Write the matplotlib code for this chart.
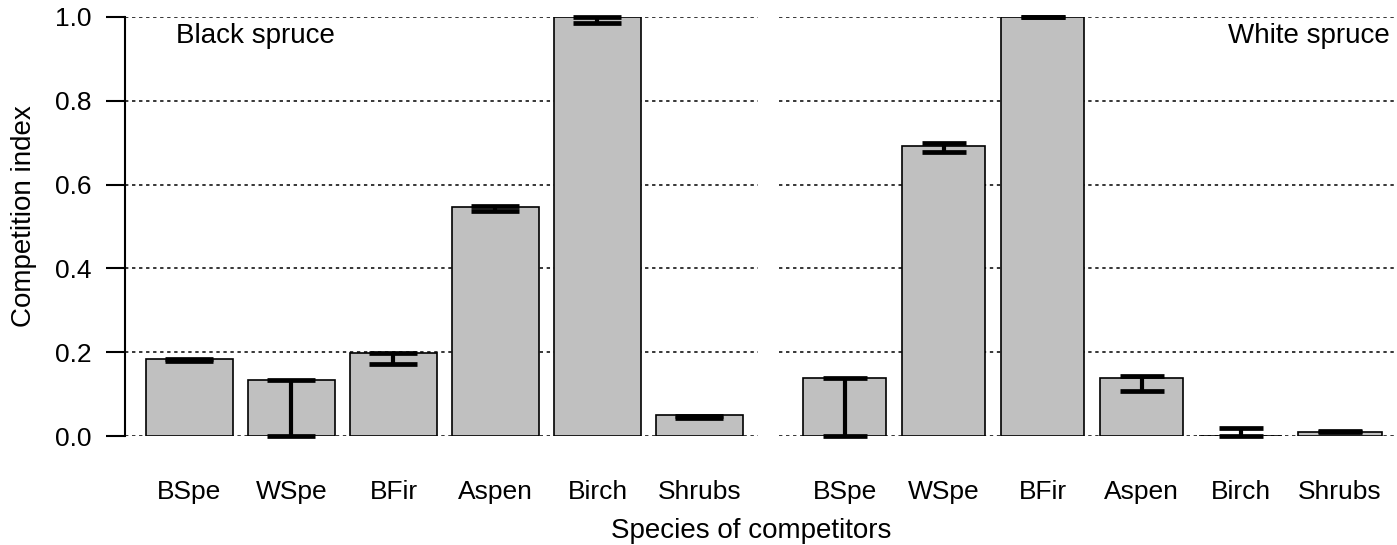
import matplotlib
matplotlib.use("Agg")
import matplotlib.pyplot as plt
import numpy as np

plt.rcParams['font.family'] = ['Liberation Sans', 'DejaVu Sans']

categories = ["BSpe", "WSpe", "BFir", "Aspen", "Birch", "Shrubs"]

black_mean = [0.184, 0.134, 0.197, 0.546, 1.000, 0.050]
black_low = [0.180, 0.000, 0.171, 0.536, 0.986, 0.044]
black_high = [0.184, 0.134, 0.197, 0.550, 1.000, 0.048]

white_mean = [0.138, 0.692, 1.000, 0.138, 0.000, 0.010]
white_low = [0.000, 0.678, 0.999, 0.107, 0.000, 0.010]
white_high = [0.138, 0.699, 1.000, 0.143, 0.019, 0.012]

yticks = [0.0, 0.2, 0.4, 0.6, 0.8, 1.0]

W, H = 1397, 545
fig = plt.figure(figsize=(W / 100, H / 100), dpi=100)

y0, y1 = 436, 17
bottom = (H - y0) / H
height = (y0 - y1) / H

axL = fig.add_axes([125 / W, bottom, (758 - 125) / W, height])
axR = fig.add_axes([779 / W, bottom, (1397 - 779) / W, height])

fill = "#c0c0c0"


def draw(ax, mean, low, high, xlim, width, capw):
    x = np.arange(len(categories))
    for yv in yticks:
        ax.axhline(yv, color="black", lw=1.1, ls=(0, (2.2, 2.4)), zorder=0)
    ax.bar(x, mean, width=width, color=fill, edgecolor="black", linewidth=1.2, zorder=2)
    lo_a = np.array(low)
    hi_a = np.array(high)
    mid = (lo_a + hi_a) / 2
    half = (hi_a - lo_a) / 2
    eb = ax.errorbar(x, mid, yerr=half, fmt="none", ecolor="black", elinewidth=3.0,
                     capsize=capw, capthick=3.4, zorder=3, clip_on=False)
    for c in eb[1]:
        c.set_solid_capstyle("round")
    ax.set_xlim(*xlim)
    ax.set_ylim(0, 1)
    ax.set_xticks(x)
    ax.set_xticklabels(categories, fontsize=19)
    ax.tick_params(axis="x", length=0, pad=32)
    for s in ["top", "right", "bottom"]:
        ax.spines[s].set_visible(False)


draw(axL, black_mean, black_low, black_high, (-0.632, 5.574), 0.845, 17)
draw(axR, white_mean, white_low, white_high, (-0.661, 5.575), 0.838, 16)

axL.set_yticks(yticks)
axL.set_yticklabels([f"{v:.1f}" for v in yticks], fontsize=19)
axL.tick_params(axis="y", length=13.7, width=1.5, pad=10.5)
axL.spines["left"].set_linewidth(1.5)

axR.spines["left"].set_visible(False)
axR.set_yticks([])

fig.text(24 / W, 1 - 216.5 / H, "Competition index", fontsize=20, rotation=90,
         ha="center", va="center")
fig.text(176 / W, 1 - 36 / H, "Black spruce", fontsize=20, ha="left", va="center")
fig.text(1390 / W, 1 - 36 / H, "White spruce", fontsize=20, ha="right", va="center")
fig.text(751 / W, 1 - 531 / H, "Species of competitors", fontsize=20,
         ha="center", va="center")

fig.savefig("out.png", dpi=100)
